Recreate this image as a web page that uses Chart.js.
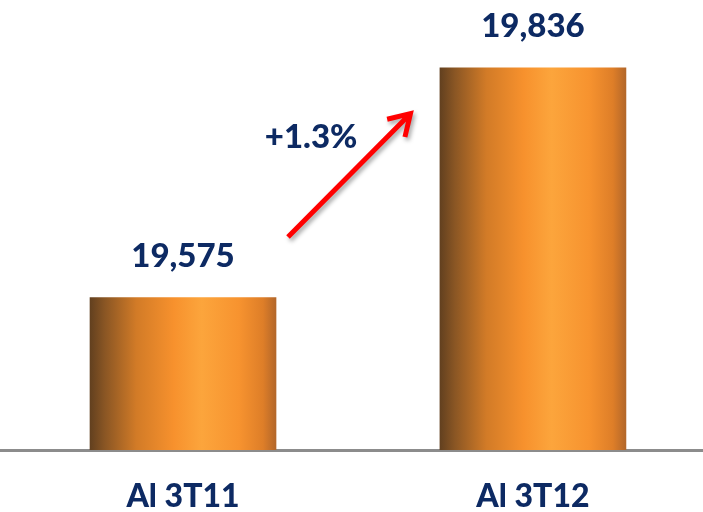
<!DOCTYPE html>
<html>
<head>
<meta charset="utf-8">
<script src="https://cdn.jsdelivr.net/npm/chart.js@4.4.0/dist/chart.umd.min.js"></script>
<style>
  html, body { margin: 0; padding: 0; background: #ffffff; }
  #wrap { width: 703px; height: 512px; position: relative; }
</style>
</head>
<body>
<div id="wrap"><canvas id="bar-chart"></canvas></div>
<script>
// Chart data
const categories = ['Al 3T11', 'Al 3T12'];
const values = [19575, 19836];
const valueLabels = ['19,575', '19,836'];
const changeLabel = '+1.3%';
// arrow and change label placed in data units (category index, value)
const arrowFrom = [0.30, 19644];
const arrowTo = [0.65, 19784];
const changeAt = [0.366, 19757];

const NAVY = '#0d2a63';
const FONT = 'Lato, "Open Sans", sans-serif';

function barGradient(ctx, left, right) {
    const g = ctx.createLinearGradient(left, 0, right, 0);
    g.addColorStop(0, '#62401f');
    g.addColorStop(0.08, '#8a5624');
    g.addColorStop(0.25, '#d27b27');
    g.addColorStop(0.45, '#f7912d');
    g.addColorStop(0.6, '#fca53c');
    g.addColorStop(0.8, '#f7932f');
    g.addColorStop(0.93, '#de7e28');
    g.addColorStop(1, '#b3672a');
    return g;
}

const annotationPlugin = {
    id: 'annotations',
    afterDatasetsDraw(chart) {
        const ctx = chart.ctx;
        const xs = chart.scales.x;
        const ys = chart.scales.y;
        const meta = chart.getDatasetMeta(0);

        ctx.save();
        ctx.fillStyle = NAVY;
        ctx.font = `900 33px ${FONT}`;
        ctx.textAlign = 'center';
        ctx.textBaseline = 'middle';
        meta.data.forEach((bar, i) => {
            ctx.fillText(valueLabels[i], bar.x, bar.y - 41);
        });

        ctx.fillText(changeLabel, xs.getPixelForValue(changeAt[0]), ys.getPixelForValue(changeAt[1]));

        // red arrow
        const x1 = xs.getPixelForValue(arrowFrom[0]);
        const y1 = ys.getPixelForValue(arrowFrom[1]);
        const x2 = xs.getPixelForValue(arrowTo[0]);
        const y2 = ys.getPixelForValue(arrowTo[1]);
        const ang = Math.atan2(y2 - y1, x2 - x1);
        const head = 24;
        ctx.shadowColor = 'rgba(0,0,0,0.35)';
        ctx.shadowBlur = 4;
        ctx.shadowOffsetX = 2;
        ctx.shadowOffsetY = 3;
        ctx.strokeStyle = '#ff0000';
        ctx.lineWidth = 5;
        ctx.lineCap = 'butt';
        ctx.lineJoin = 'miter';
        ctx.beginPath();
        ctx.moveTo(x1, y1);
        ctx.lineTo(x2 - Math.cos(ang) * 3, y2 - Math.sin(ang) * 3);
        ctx.moveTo(x2 - head * Math.cos(ang - 0.55), y2 - head * Math.sin(ang - 0.55));
        ctx.lineTo(x2, y2);
        ctx.lineTo(x2 - head * Math.cos(ang + 0.55), y2 - head * Math.sin(ang + 0.55));
        ctx.stroke();
        ctx.restore();
    }
};

new Chart(document.getElementById('bar-chart').getContext('2d'), {
    type: 'bar',
    data: {
        datasets: [{
            data: values.map((v, i) => ({ x: i, y: v })),
            barThickness: 186,
            backgroundColor: (context) => {
                const chart = context.chart;
                if (!chart.chartArea || !chart.scales.x) return '#f7912d';
                const cx = chart.scales.x.getPixelForValue(context.dataIndex);
                return barGradient(chart.ctx, cx - 93, cx + 93);
            },
            borderWidth: 0
        }]
    },
    options: {
        responsive: true,
        maintainAspectRatio: false,
        animation: false,
        layout: { padding: 0 },
        plugins: {
            legend: { display: false },
            tooltip: { enabled: false }
        },
        scales: {
            x: {
                type: 'linear',
                offset: false,
                bounds: 'data',
                min: -0.523,
                max: 1.486,
                afterBuildTicks: (scale) => {
                    scale.ticks = categories.map((c, i) => ({ value: i }));
                },
                afterFit: (scale) => { scale.height = 62; },
                grid: { display: false, drawTicks: false },
                border: { display: true, color: '#8c8c8c', width: 3 },
                ticks: {
                    padding: 27,
                    autoSkip: false,
                    maxRotation: 0,
                    minRotation: 0,
                    color: NAVY,
                    font: { family: FONT, size: 32, weight: '900' },
                    callback: (value) => categories[value] ?? ''
                }
            },
            y: {
                display: false,
                min: 19402,
                max: 19913
            }
        }
    },
    plugins: [annotationPlugin]
});
</script>
</body>
</html>
